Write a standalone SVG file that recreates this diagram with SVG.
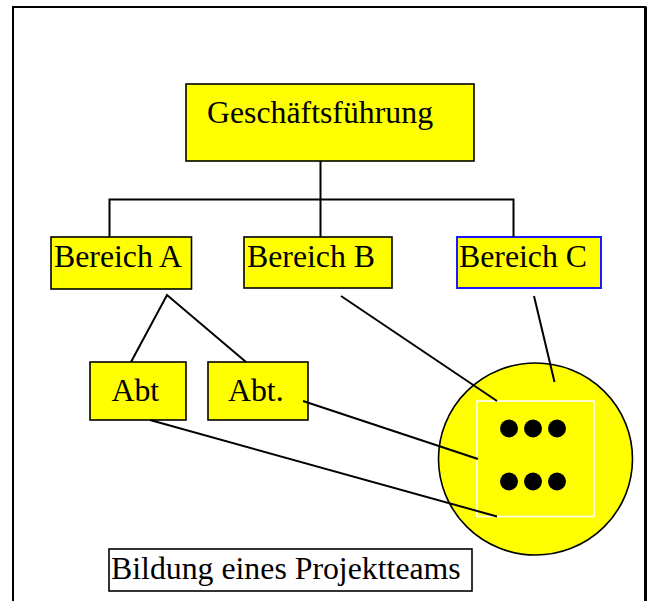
<svg xmlns="http://www.w3.org/2000/svg" width="652" height="601" viewBox="0 0 652 601">
<style>
.box{fill:#ffff00;stroke:#000;stroke-width:1.6}
.t{font-family:"Liberation Serif","Times New Roman",serif;font-size:31.8px;fill:#000}
.ln{stroke:#000;stroke-width:2;fill:none}
</style>
<rect x="0" y="0" width="652" height="601" fill="#fff"/>
<rect id="frame" x="13" y="7" width="632.5" height="600" fill="none" stroke="#000" stroke-width="2"/>
<line x1="645.5" y1="7" x2="645.5" y2="601" stroke="#000" stroke-width="3"/>
<g id="gf"><rect class="box" x="186" y="84" width="288" height="77"/><text class="t" x="207" y="122.5">Geschäftsführung</text></g>
<g id="bereichA"><rect class="box" x="51" y="237" width="140.5" height="52"/><text class="t" x="54" y="267">Bereich A</text></g>
<g id="bereichB"><rect class="box" x="244" y="237" width="148" height="51"/><text class="t" x="247" y="267">Bereich B</text></g>
<g id="bereichC"><rect class="box" x="457" y="237" width="144" height="51" style="stroke:#1a1aff;stroke-width:2"/><text class="t" x="459" y="267">Bereich C</text></g>
<g id="abt1"><rect class="box" x="90" y="362" width="96" height="58"/><text class="t" x="111.5" y="401">Abt</text></g>
<g id="abt2"><rect class="box" x="208" y="362" width="100" height="58"/><text class="t" x="228" y="401">Abt.</text></g>
<g id="team">
<ellipse cx="535.5" cy="459" rx="97" ry="96" fill="#ffff00" stroke="#000" stroke-width="1.6"/>
<rect x="477" y="401" width="117" height="115.5" fill="#ffff00" stroke="#fff" stroke-width="1.6"/>
<g fill="#000"><circle cx="509" cy="428.5" r="9"/><circle cx="533" cy="428.5" r="9"/><circle cx="557" cy="428.5" r="9"/><circle cx="509" cy="481.5" r="9"/><circle cx="533" cy="481.5" r="9"/><circle cx="557" cy="481.5" r="9"/></g>
</g>
<g id="caption"><rect x="109" y="549" width="363" height="42" fill="#fff" stroke="#000" stroke-width="1.6"/><text class="t" x="111" y="579">Bildung eines Projektteams</text></g>
<g id="connectors">
<path class="ln" d="M320.5,161 V237 M109.5,237 V199.5 H513.5 V237" stroke-width="1.6"/>
<path class="ln" d="M131,362 L167,295 L246,362"/>
<path class="ln" d="M341,296 L497,401"/>
<path class="ln" d="M534,296 L554.5,382"/>
<path class="ln" d="M303,401 L478,459"/>
<path class="ln" d="M150,420 L497,516.5"/>
</g>
</svg>
